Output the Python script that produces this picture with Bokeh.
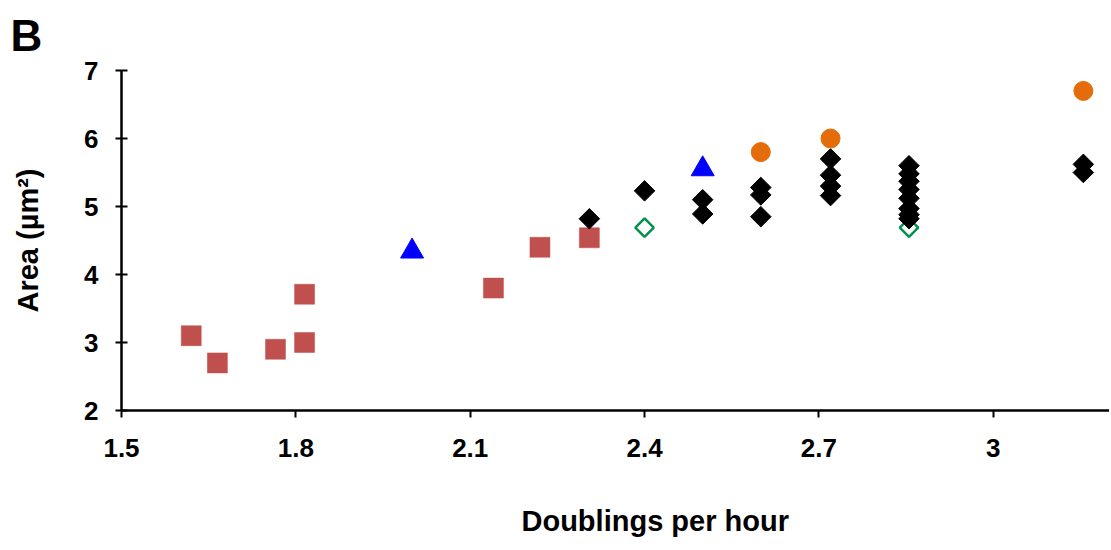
from bokeh.plotting import figure
from bokeh.models import Range1d, FixedTicker, Title
from bokeh.embed import file_html
from bokeh.resources import INLINE
import math

# ---- data ----
square_x = [1.62, 1.665, 1.765, 1.815, 1.815, 2.14, 2.22, 2.305]
square_y = [3.10, 2.70, 2.90, 3.00, 3.71, 3.80, 4.40, 4.54]

triangle_x = [2.0, 2.5]
triangle_y = [4.34, 5.55]

circle_x = [2.60, 2.72, 3.155]
circle_y = [5.80, 6.00, 6.70]

diamond_x = [2.305, 2.40, 2.50, 2.50, 2.60, 2.60, 2.60,
             2.72, 2.72, 2.72, 2.72,
             2.855, 2.855, 2.855, 2.855, 2.855, 2.855, 2.855, 2.855,
             3.155, 3.155]
diamond_y = [4.82, 5.23, 5.10, 4.89, 5.28, 5.17, 4.85,
             5.70, 5.46, 5.30, 5.16,
             5.60, 5.48, 5.37, 5.25, 5.12, 4.97, 4.88, 4.82,
             5.62, 5.50]

open_diamond_x = [2.40, 2.855]
open_diamond_y = [4.69, 4.69]

x_ticks = [1.5, 1.8, 2.1, 2.4, 2.7, 3.0]
x_tick_labels = ["1.5", "1.8", "2.1", "2.4", "2.7", "3"]
y_ticks = [2, 3, 4, 5, 6, 7]

FONT = "Liberation Sans"

p = figure(frame_width=988, frame_height=340,
           min_border_left=121, min_border_right=0,
           min_border_top=70, min_border_bottom=140,
           x_range=Range1d(1.5, 3.2), y_range=Range1d(2, 7),
           title="B", title_location="above",
           output_backend="svg", toolbar_location=None)

# panel letter (uses the figure's own title)
p.title.align = "left"
p.title.vertical_align = "top"
p.title.offset = -111
p.title.standoff = 17
p.title.text_font = FONT
p.title.text_font_style = "bold"
p.title.text_font_size = "44px"
p.title.text_color = "black"

p.outline_line_color = None
p.xgrid.grid_line_color = None
p.ygrid.grid_line_color = None
p.background_fill_color = "white"
p.border_fill_color = "white"

# x axis
xa = p.xaxis[0]
xa.ticker = FixedTicker(ticks=x_ticks)
xa.major_label_overrides = {t: l for t, l in zip(x_ticks, x_tick_labels)}
xa.minor_tick_line_color = None
xa.major_tick_in = 0
xa.major_tick_out = 7
xa.axis_line_width = 2.5
xa.major_tick_line_width = 2
xa.axis_line_color = "black"
xa.major_tick_line_color = "black"
xa.major_label_text_font = FONT
xa.major_label_text_font_style = "bold"
xa.major_label_text_font_size = "26px"
xa.major_label_text_color = "black"
xa.major_label_standoff = 21

# y axis
ya = p.yaxis[0]
ya.ticker = FixedTicker(ticks=y_ticks)
ya.minor_tick_line_color = None
ya.major_tick_in = 6
ya.major_tick_out = 6
ya.axis_line_width = 2.5
ya.major_tick_line_width = 2
ya.axis_line_color = "black"
ya.major_tick_line_color = "black"
ya.major_label_text_font = FONT
ya.major_label_text_font_style = "bold"
ya.major_label_text_font_size = "26px"
ya.major_label_text_color = "black"
ya.major_label_standoff = 17
ya.axis_label = "Area (µm²)"
ya.axis_label_text_font = FONT
ya.axis_label_text_font_style = "bold"
ya.axis_label_text_font_size = "29px"
ya.axis_label_text_color = "black"
ya.axis_label_standoff = 37

# markers
p.scatter(square_x, square_y, marker="square", size=20,
          fill_color="#C0504D", line_color="#C0504D", line_width=0.5)
p.scatter(triangle_x, triangle_y, marker="triangle", size=23,
          fill_color="#0000FF", line_color="#0000FF")
p.scatter(open_diamond_x, open_diamond_y, marker="square", angle=math.pi / 4,
          size=13, fill_color=None, line_color="#00914B", line_width=2.5)
p.scatter(diamond_x, diamond_y, marker="square", angle=math.pi / 4,
          size=14.5, fill_color="black", line_color="black")
p.scatter(circle_x, circle_y, marker="circle", size=19,
          fill_color="#E46C0A", line_color="#E46C0A")

# x axis title (offset to the right of the frame centre, as in the original)
p.add_layout(Title(text="Doublings per hour", align="left", offset=400,
                   standoff=87, text_font=FONT, text_font_style="bold",
                   text_font_size="29px", text_color="black"), "below")

open("out.html", "w").write(file_html(p, INLINE))
